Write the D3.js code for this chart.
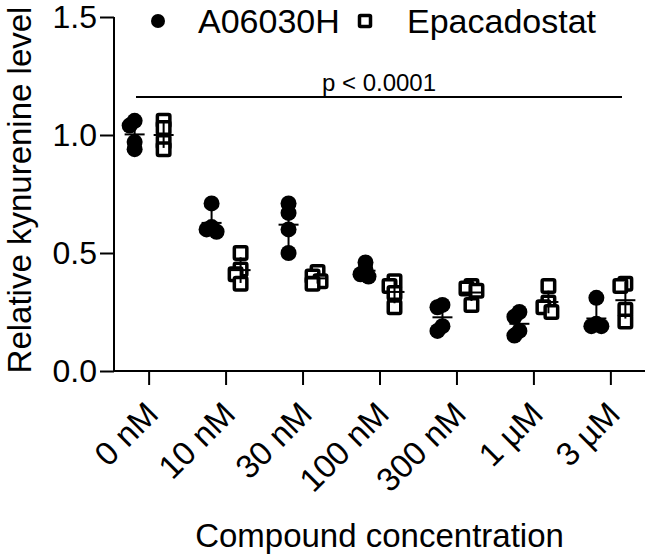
<!DOCTYPE html>
<html>
<head>
<meta charset="utf-8">
<script src="https://cdn.jsdelivr.net/npm/d3@7"></script>
<style>
  body { margin: 0; background: #fff; }
  text { font-family: "Liberation Sans", Arial, sans-serif; fill: #000; }
</style>
</head>
<body>
<svg id="chart" width="646" height="558"></svg>
<script>
// values
var concentrations = ["0 nM", "10 nM", "30 nM", "100 nM", "300 nM", "1 \u00b5M", "3 \u00b5M"];
var seriesNames = ["A06030H", "Epacadostat"];
var a06030h = [
    [1.06, 1.04, 0.97, 0.94],
    [0.71, 0.61, 0.60, 0.59],
    [0.71, 0.67, 0.60, 0.50],
    [0.46, 0.43, 0.41, 0.40],
    [0.28, 0.27, 0.19, 0.17],
    [0.25, 0.23, 0.17, 0.15],
    [0.31, 0.20, 0.19, 0.19]
];
var epacadostat = [
    [1.06, 1.03, 0.97, 0.94],
    [0.50, 0.43, 0.41, 0.37],
    [0.42, 0.40, 0.38, 0.37],
    [0.38, 0.36, 0.33, 0.27],
    [0.36, 0.35, 0.34, 0.28],
    [0.36, 0.29, 0.27, 0.25],
    [0.37, 0.36, 0.26, 0.21]
];
var yTicks = [0, 0.5, 1.0, 1.5];
var pLabel = "p < 0.0001";

function drawChart() {
    var svg = d3.select("#chart");

    var x = d3.scalePoint().domain(concentrations).range([114, 645]).padding(0.45);
    var y = d3.scaleLinear().domain([0, 1.5]).range([371, 17]);

    // axes
    var yAxis = svg.append("g")
        .attr("transform", "translate(114,0)")
        .call(d3.axisLeft(y).tickValues(yTicks).tickFormat(d3.format(".1f")).tickSize(14).tickPadding(3));
    yAxis.select(".domain").attr("d", "M0," + y(1.5) + "V" + y(0));
    yAxis.selectAll("line, path").attr("stroke", "#000").attr("stroke-width", 2);
    yAxis.selectAll("text").attr("font-size", 32).attr("font-family", "Liberation Sans, Arial, sans-serif");

    var xAxis = svg.append("g")
        .attr("transform", "translate(0," + y(0) + ")")
        .call(d3.axisBottom(x).tickSize(14).tickSizeOuter(0));
    xAxis.select(".domain").attr("d", "M114,0H645");
    xAxis.selectAll("line, path").attr("stroke", "#000").attr("stroke-width", 2);
    xAxis.selectAll("text")
        .attr("font-size", 33)
        .attr("font-family", "Liberation Sans, Arial, sans-serif")
        .attr("text-anchor", "end")
        .attr("dy", 0)
        .attr("y", 0)
        .attr("transform", "translate(11,45) rotate(-45)");

    // axis titles
    svg.append("text")
        .attr("x", 379.5).attr("y", 547)
        .attr("text-anchor", "middle")
        .attr("font-size", 33)
        .text("Compound concentration");
    svg.append("text")
        .attr("transform", "translate(31," + 190 + ") rotate(-90)")
        .attr("text-anchor", "middle")
        .attr("font-size", 33)
        .text("Relative kynurenine level");

    // significance bar
    svg.append("line")
        .attr("x1", 136).attr("x2", 622)
        .attr("y1", 97).attr("y2", 97)
        .attr("stroke", "#000").attr("stroke-width", 2);
    svg.append("text")
        .attr("x", 379).attr("y", 91)
        .attr("text-anchor", "middle")
        .attr("font-size", 24)
        .text(pLabel);

    var r = 8;
    var sq = 12.5;

    // spread overlapping points a little, like a column scatter
    function dodge(vals) {
        var placed = [];
        var cands = [0, -3, 3, -5, 5];
        return vals.map(function(v) {
            var py = y(v);
            var best = 0, bestD = -1;
            for (var k = 0; k < cands.length; k++) {
                var d = 1e9;
                placed.forEach(function(p) {
                    d = Math.min(d, Math.hypot(p[0] - cands[k], p[1] - py));
                });
                if (d >= 7) { best = cands[k]; bestD = d; break; }
                if (d > bestD) { bestD = d; best = cands[k]; }
            }
            placed.push([best, py]);
            return best;
        });
    }

    function drawSeries(data, shift, kind) {
        data.forEach(function(vals, i) {
            var cx = x(concentrations[i]) + shift;
            var offs = dodge(vals);
            var g = svg.append("g");
            vals.forEach(function(v, j) {
                if (kind == "circle") {
                    g.append("circle")
                        .attr("cx", cx + offs[j]).attr("cy", y(v)).attr("r", r)
                        .attr("fill", "#000");
                } else {
                    g.append("rect")
                        .attr("x", cx + offs[j] - sq / 2).attr("y", y(v) - sq / 2)
                        .attr("width", sq).attr("height", sq).attr("rx", 1.5)
                        .attr("fill", "#fff").attr("stroke", "#000").attr("stroke-width", 3.5);
                }
            });
            var m = d3.mean(vals), s = d3.deviation(vals);
            g.append("line")
                .attr("x1", cx).attr("x2", cx)
                .attr("y1", y(m - s)).attr("y2", y(m + s))
                .attr("stroke", "#000").attr("stroke-width", 2);
            g.append("line")
                .attr("x1", cx - 10).attr("x2", cx + 10)
                .attr("y1", y(m)).attr("y2", y(m))
                .attr("stroke", "#000").attr("stroke-width", 2);
        });
    }

    drawSeries(a06030h, -14, "circle");
    drawSeries(epacadostat, 15, "square");

    // legend
    svg.append("circle").attr("cx", 158).attr("cy", 21).attr("r", 7).attr("fill", "#000");
    svg.append("text").attr("x", 198).attr("y", 33).attr("font-size", 34).text(seriesNames[0]);
    svg.append("rect")
        .attr("x", 365 - 5.5).attr("y", 21 - 5.5).attr("width", 11).attr("height", 11).attr("rx", 1)
        .attr("fill", "#fff").attr("stroke", "#000").attr("stroke-width", 3.5);
    svg.append("text").attr("x", 407).attr("y", 33).attr("font-size", 34).text(seriesNames[1]);
}

drawChart();
</script>
</body>
</html>
